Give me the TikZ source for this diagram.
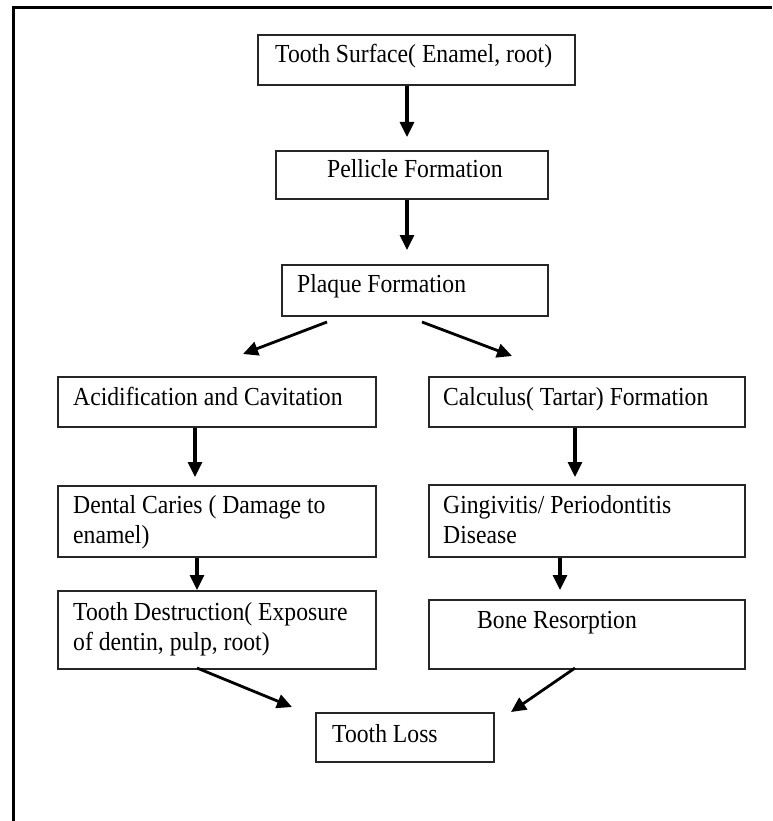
\documentclass[tikz,border=0pt]{standalone}
\usepackage{fontspec}
\setmainfont{Liberation Serif}[FakeStretch=0.91]
\usetikzlibrary{arrows.meta}
\begin{document}
\begin{tikzpicture}[x=1pt,y=-1pt,
  box/.style={draw=black!85, line width=1.8pt, rectangle, inner sep=0pt, anchor=north west},
  txt/.style={font=\fontsize{26}{30}\selectfont, inner sep=0pt, anchor=base west, align=left},
  arr/.style={line width=3.2pt, -{Triangle[length=15pt,width=14pt]}},
  darr/.style={line width=2.8pt, -{Triangle[length=15pt,width=14pt]}}]
\useasboundingbox (0,0) rectangle (772,821);
% frame
\draw[line width=3pt] (13,821) -- (13,8) -- (772,8);
% boxes
\node[box, minimum width=317pt, minimum height=50pt] (b1) at (257,34) {};
\node[box, minimum width=272pt, minimum height=48pt] (b2) at (275,150) {};
\node[box, minimum width=266pt, minimum height=51pt] (b3) at (281,264) {};
\node[box, minimum width=318pt, minimum height=50pt] (b4) at (57,376) {};
\node[box, minimum width=316pt, minimum height=50pt] (b5) at (428,376) {};
\node[box, minimum width=318pt, minimum height=71pt] (b6) at (57,485) {};
\node[box, minimum width=316pt, minimum height=72pt] (b7) at (428,484) {};
\node[box, minimum width=318pt, minimum height=78pt] (b8) at (57,590) {};
\node[box, minimum width=316pt, minimum height=69pt] (b9) at (428,599) {};
\node[box, minimum width=178pt, minimum height=49pt] (b10) at (315,712) {};
% texts (multi-line nodes are placed by the baseline of their last line)
\node[txt] (x1) at (275,63) {Tooth Surface( Enamel, root)};
\node[txt] (x2) at (327,178) {Pellicle Formation};
\node[txt] (x3) at (297,292) {Plaque Formation};
\node[txt] (x4) at (73,405) {Acidification and Cavitation};
\node[txt] (x5) at (443,405) {Calculus( Tartar) Formation};
\node[txt] (x6) at (73,543) {Dental Caries ( Damage to\\enamel)};
\node[txt] (x7) at (443,543) {Gingivitis/ Periodontitis\\Disease};
\node[txt] (x8) at (73,650) {Tooth Destruction( Exposure\\of dentin, pulp, root)};
\node[txt] (x9) at (477,628) {Bone Resorption};
\node[txt] (x10) at (332,742) {Tooth Loss};
% arrow coordinates
\coordinate (t1) at (407,137);
\coordinate (t2) at (407,250);
\coordinate (s3l) at (327,322);
\coordinate (t3l) at (243,354);
\coordinate (s3r) at (422,322);
\coordinate (t3r) at (512,356);
\coordinate (t4) at (195,477);
\coordinate (t5) at (575,477);
\coordinate (t6) at (197,590);
\coordinate (t7) at (560,590);
\coordinate (s8) at (197,668);
\coordinate (t8) at (292,707);
\coordinate (s9) at (575,668);
\coordinate (t9) at (511,712);
% arrows
\draw[arr] (b1.south -| t1) -- (t1);
\draw[arr] (b2.south -| t2) -- (t2);
\draw[darr] (s3l) -- (t3l);
\draw[darr] (s3r) -- (t3r);
\draw[arr] (b4.south -| t4) -- (t4);
\draw[arr] (b5.south -| t5) -- (t5);
\draw[arr] (b6.south -| t6) -- (t6);
\draw[arr] (b7.south -| t7) -- (t7);
\draw[darr] (s8) -- (t8);
\draw[darr] (s9) -- (t9);
\end{tikzpicture}
\end{document}
